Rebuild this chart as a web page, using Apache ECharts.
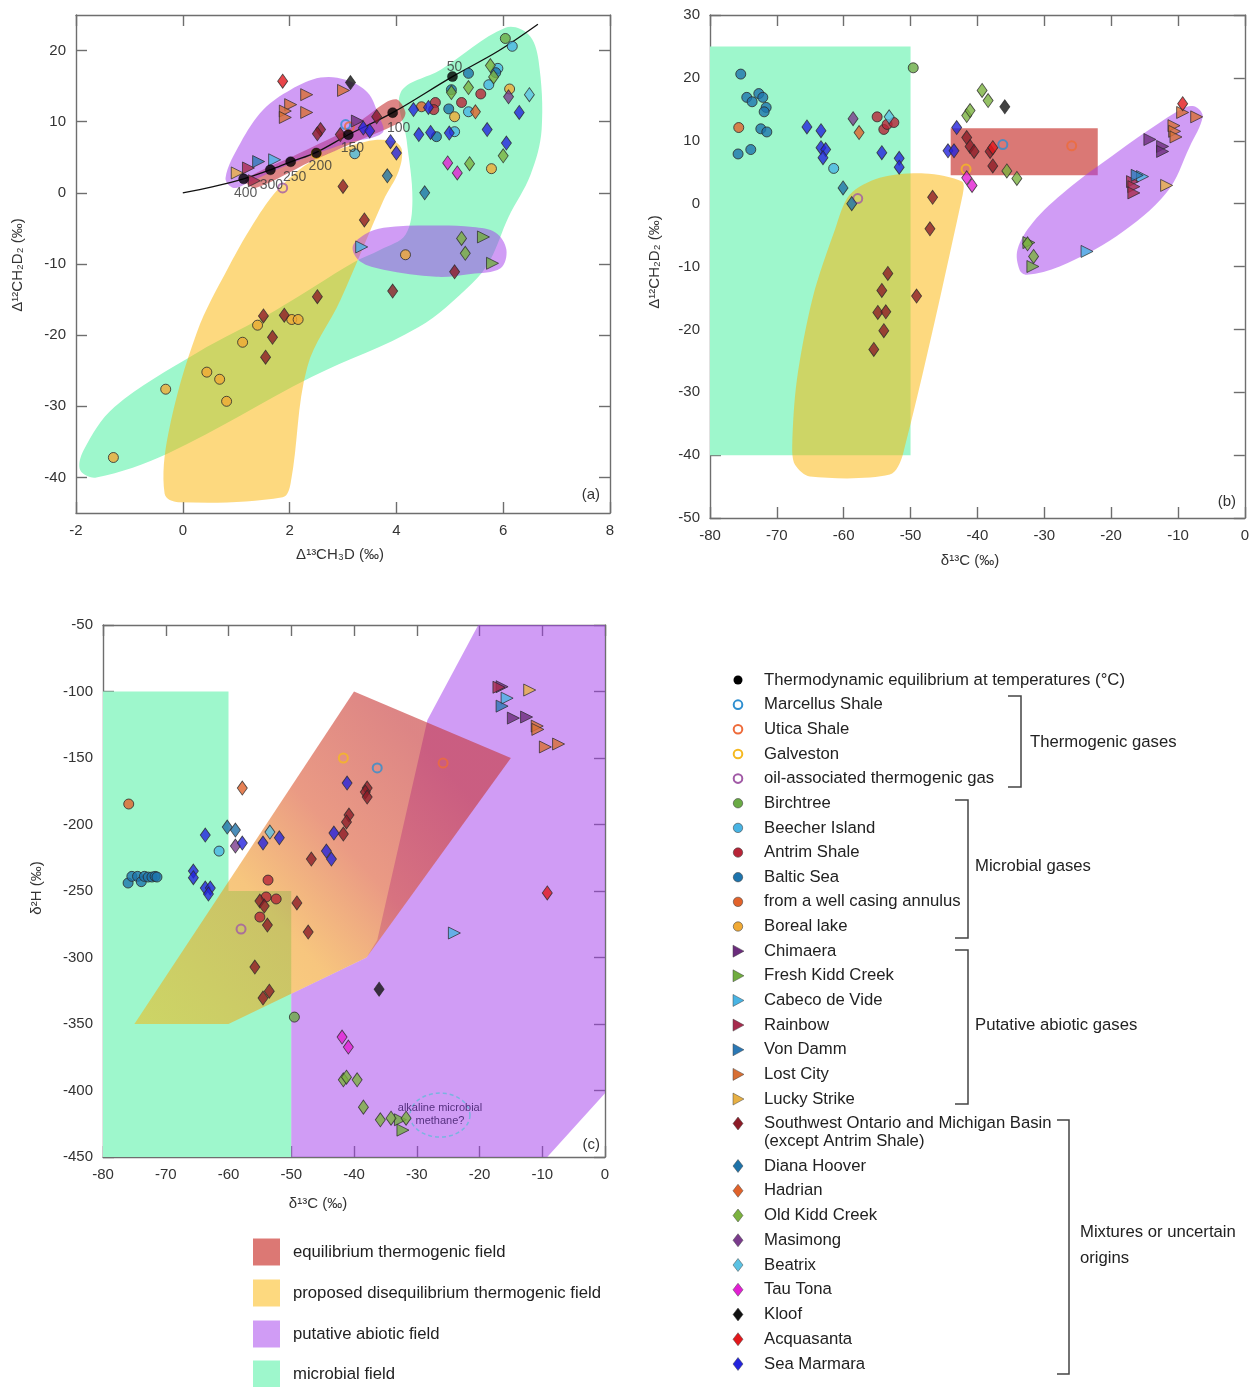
<!DOCTYPE html>
<html><head><meta charset="utf-8">
<script src="https://cdn.jsdelivr.net/npm/echarts@6/dist/echarts.min.js"></script>
<style>html,body{margin:0;padding:0;background:#fff}#c{width:1252px;height:1387px}</style>
</head><body><div id="c"></div>
<script>
// ---------- tick labels ----------
const ticksAx = [-2, 0, 2, 4, 6, 8];
const ticksAy = [-40, -30, -20, -10, 0, 10, 20];
const ticksBx = [-80, -70, -60, -50, -40, -30, -20, -10, 0];
const ticksBy = [-50, -40, -30, -20, -10, 0, 10, 20, 30];
const ticksCx = [-80, -70, -60, -50, -40, -30, -20, -10, 0];
const ticksCy = [-450, -400, -350, -300, -250, -200, -150, -100, -50];

// ---------- thermodynamic equilibrium (panel a) ----------
const eqCurve = [[0,0],[0.55,0.85],[1.14,1.97],[1.64,3.24],[2.02,4.37],[2.5,5.7],[3.1,8.17],[3.93,11.27],[5.05,16.34],[5.9,19.9],[6.65,23.7]];
const eqPoints = [[1.14,1.97],[1.64,3.24],[2.02,4.37],[2.5,5.6],[3.1,8.17],[3.93,11.27],[5.05,16.34]];
const eqTemps = ['400','300','250','200','150','100','50'];

// ---------- samples: A = Δ13CH3D vs Δ12CH2D2, B = δ13C vs Δ12CH2D2, C = δ13C vs δ2H ----------
const marcellusA = [[3.05,9.6]];
const marcellusB = [[-36.2,9.4]];
const marcellusC = [[-36.3,-157.5]];
const uticaA = [[3.12,9.3]];
const uticaB = [[-25.9,9.2]];
const uticaC = [[-25.8,-153.8]];
const galvestonA = [[2.5,5.5]];
const galvestonB = [[-41.7,5.5]];
const galvestonC = [[-41.7,-150]];
const oilGasA = [[1.87,0.7]];
const oilGasB = [[-57.9,0.8]];
const oilGasC = [[-58,-278.6]];
const birchtreeA = [[6.04,21.7]];
const birchtreeB = [[-49.6,21.6]];
const birchtreeC = [[-49.5,-344.8]];
const beecherA = [[6.17,20.6],[5.9,17.5],[5.73,15.2],[5.35,11.4],[5.09,8.6],[3.22,5.5]];
const beecherB = [[-61.5,5.6]];
const beecherC = [[-61.5,-220]];
const antrimA = [[4.73,12.7],[4.7,11.7],[5.22,12.7],[5.58,13.9]];
const antrimB = [[-55,13.8],[-54,11.8],[-53.5,12.6],[-52.5,12.9]];
const antrimC = [[-53.7,-241.8],[-54,-254.5],[-52.4,-256],[-55,-269.6]];
const balticA = [[5.03,14.5],[5.86,16.9],[5.35,16.8],[4.98,11.8],[4.75,7.9]];
const balticB = [[-75.4,20.6],[-74.5,16.9],[-73.7,16.2],[-72.7,17.5],[-72.1,16.9],[-71.6,15.3],[-71.9,14.6],[-72.4,11.9],[-71.5,11.4],[-75.8,7.9],[-73.9,8.6]];
const balticC = [[-76,-244],[-75.4,-239],[-74.5,-239],[-73.9,-243],[-73.4,-239],[-72.8,-239.5],[-72.2,-239.5],[-71.7,-239],[-71.4,-239.5]];
const casingA = [[4.47,12.1]];
const casingB = [[-75.7,12.1]];
const casingC = [[-75.9,-184.6]];
const borealA = [[5.09,10.7],[6.12,14.6],[5.78,3.4],[4.17,-8.7],[1.4,-18.6],[2.04,-17.8],[2.16,-17.8],[1.12,-21],[0.45,-25.2],[0.69,-26.2],[0.82,-29.3],[-0.32,-27.6],[-1.3,-37.2]];
const borealB = [];
const borealC = [];
const chimaeraA = [[3.27,10.1]];
const chimaeraB = [[-14.2,10.2],[-12.3,9.1],[-12.3,8.3]];
const chimaeraC = [[-14.6,-120],[-12.5,-119.2],[-16.4,-96.4]];
const freshKiddA = [[5.63,-6.2],[5.8,-9.9]];
const freshKiddB = [[-32.3,-6.2],[-31.7,-10]];
const freshKiddC = [[-32.6,-422],[-32.2,-429.8]];
const cabecoA = [[1.72,4.65],[3.35,-7.6]];
const cabecoB = [[-15.3,4.3],[-23.6,-7.6]];
const cabecoC = [[-15.6,-105],[-24,-281.6]];
const rainbowA = [[1.23,3.5],[1.34,1.7]];
const rainbowB = [[-16.8,3.5],[-16.6,2.7],[-16.6,1.7]];
const rainbowC = [[-16.9,-96.8]];
const vonDammA = [[1.42,4.4]];
const vonDammB = [[-16.1,4.5]];
const vonDammC = [[-16.4,-111]];
const lostCityA = [[2.32,13.8],[2.02,12.4],[1.92,11.5],[1.92,10.6],[2.32,11.3],[3.01,14.4]];
const lostCityB = [[-9.3,14.5],[-7.2,13.8],[-10.6,12.4],[-10.5,11.5],[-10.3,10.6]];
const lostCityC = [[-10.8,-126],[-10.7,-128.5],[-9.5,-141.7],[-7.4,-139.5]];
const luckyA = [[1.02,2.8]];
const luckyB = [[-11.7,2.9]];
const luckyC = [[-12,-98.9]];
const swOntarioA = [[2.58,8.9],[2.52,8.3],[2.95,8.2],[3.63,10.7],[3.0,0.9],[3.4,-3.8],[5.09,-11.1],[3.93,-13.8],[2.52,-14.6],[1.51,-17.3],[1.9,-17.2],[1.68,-20.3],[1.55,-23.1]];
const swOntarioB = [[-41.6,10.5],[-41.1,9.1],[-40.5,8.3],[-38.1,8.3],[-37.7,6.0],[-46.7,1.0],[-47.1,-4.0],[-49.1,-14.7],[-53.4,-11.1],[-54.3,-13.8],[-54.9,-17.3],[-53.7,-17.2],[-54,-20.2],[-55.5,-23.2]];
const swOntarioC = [[-37.9,-172.6],[-38.2,-175.6],[-37.9,-179.4],[-40.8,-192.9],[-41.2,-198.1],[-41.7,-207.2],[-46.8,-226],[-49.1,-259],[-47.3,-280.9],[-55,-257.6],[-54.3,-261.3],[-53.8,-275.6],[-55.8,-307.2],[-53.5,-325.3],[-54.5,-330.5]];
const dianaA = [[3.83,2.4],[4.53,0]];
const dianaB = [[-60.1,2.5],[-58.8,0]];
const dianaC = [[-60.2,-201.9],[-58.9,-204.2]];
const hadrianA = [[5.48,11.4]];
const hadrianB = [[-57.7,11.3]];
const hadrianC = [[-57.8,-172.6]];
const oldKiddA = [[5.37,4.1],[5.76,17.9],[5.82,16.3],[5.35,14.8],[5.03,14.1],[6.0,5.2],[5.22,-6.4],[5.29,-8.5]];
const oldKiddB = [[-41.6,14],[-41.1,14.8],[-39.3,18],[-38.4,16.4],[-35.6,5.2],[-34.1,4.0],[-32.5,-6.4],[-31.6,-8.4]];
const oldKiddC = [[-41.7,-392],[-41.2,-390],[-39.5,-392],[-38.5,-412.5],[-35.8,-422],[-34.1,-420.8],[-31.7,-420.8]];
const masimongA = [[6.1,13.5]];
const masimongB = [[-58.6,13.5]];
const masimongC = [[-58.9,-216.2]];
const beatrixA = [[6.49,13.8]];
const beatrixB = [[-53.2,13.8]];
const beatrixC = [[-53.4,-205.7]];
const tauTonaA = [[4.96,4.2],[5.14,2.8]];
const tauTonaB = [[-41.6,4.1],[-40.8,2.9]];
const tauTonaC = [[-41.9,-359.8],[-40.9,-367.3]];
const kloofA = [[3.14,15.5]];
const kloofB = [[-35.9,15.4]];
const kloofC = [[-36,-323.8]];
const acquasantaA = [[1.87,15.7]];
const acquasantaB = [[-9.3,15.9],[-37.7,8.9]];
const acquasantaC = [[-9.2,-251.5]];
const marmaraA = [[3.38,9.1],[3.5,8.7],[3.89,7.2],[4.0,5.6],[4.32,11.7],[4.6,12.0],[4.42,8.2],[4.64,8.5],[4.99,8.4],[5.7,8.9],[6.06,7.0],[6.3,11.3]];
const marmaraB = [[-65.5,12.2],[-63.4,11.6],[-63.4,8.9],[-62.7,8.6],[-63.1,7.3],[-54.3,8.1],[-51.7,7.2],[-51.7,5.8],[-44.4,8.4],[-43.5,8.4],[-43.1,12.1]];
const marmaraC = [[-63.7,-207.9],[-65.6,-235],[-65.6,-240],[-63.7,-247.8],[-62.9,-247.8],[-63.2,-252.3],[-57.8,-214],[-54.5,-214],[-51.9,-210],[-41.1,-168.8],[-43.2,-206.4],[-44.4,-220],[-43.6,-226]];

// ---------- fields (outlines in data units) ----------
const greenFieldA = [[4.08,14.1],[4.83,17.3],[6.04,23.2],[6.47,22.3],[6.66,18.7],[6.72,8.9],[6.51,2.5],[6.1,-3.4],[5.76,-9.4],[5.42,-12.7],[4.41,-18.9],[2.41,-25.9],[-0.27,-36.6],[-1.62,-40.0],[-1.92,-39.0],[-1.86,-36.2],[-1.28,-30.1],[0.26,-22.5],[1.74,-16.5],[3.22,-9.7],[3.7,-8.0],[4.17,-5.9],[4.3,-1.0],[4.19,7.5]];
const yellowFieldA = [[-0.34,-42.3],[-0.08,-43.5],[1.87,-42.8],[2.02,-40.8],[2.33,-24.5],[2.95,-15.1],[3.76,-1.0],[4.04,3.0],[4.1,6.1],[3.93,7.3],[3.42,7.2],[2.45,4.6],[1.83,0.85],[1.4,-3.4],[0.86,-10.4],[0.26,-19.7],[-0.27,-33.8]];
const redFieldA = [[1.17,1.83],[2.2,5.63],[3.14,9.15],[3.8,12.7],[4.02,13.1],[4.17,11.3],[4.08,10.0],[3.33,7.46],[2.39,4.37],[1.36,0.7]];
const purpleFieldA1 = [[0.8,2.1],[0.95,0.7],[1.21,1.4],[1.83,3.5],[2.45,5.35],[3.08,7.0],[3.74,8.45],[3.66,11.0],[3.46,14.1],[3.05,15.9],[2.58,16.2],[2.02,14.5],[1.51,11.7],[1.08,7.0]];
const purpleFieldA2 = [[3.18,-7.6],[3.42,-5.8],[3.76,-4.9],[4.64,-4.6],[5.43,-4.8],[5.86,-5.6],[6.06,-8.0],[5.95,-10.6],[5.39,-11.4],[4.75,-11.8],[3.76,-10.8],[3.33,-9.7]];
const greenFieldB = [[-80,-40],[-50,-40],[-50,25],[-80,25]];
const redFieldB = [[-44,4.5],[-22,4.5],[-22,12],[-44,12]];
const yellowFieldB = [[-67.7,-38.6],[-67.3,-41.5],[-65.05,-43.4],[-53.1,-43.1],[-51.15,-39.9],[-42.2,1.43],[-42.3,3.5],[-47.9,4.8],[-54.6,4.1],[-59.1,1.4],[-61.3,-4.1],[-64.6,-14.8],[-67,-28]];
const purpleFieldB = [[-33.7,-10.5],[-32.6,-11.3],[-27.7,-10],[-19.2,-5.2],[-11.7,1.75],[-8.25,9.06],[-6.3,13.8],[-7.2,15.3],[-8.7,15.4],[-12.7,12.9],[-19.2,8.1],[-26.6,2.2],[-31.7,-3.0],[-34,-7.3]];
const greenFieldC = [[-80,-100],[-60,-100],[-60,-250],[-50,-250],[-50,-450],[-80,-450]];
const purpleFieldC = [[-20.2,-50],[0,-50],[0,-402],[-9.2,-450],[-50,-450],[-50,-327.3],[-38,-300],[-36.3,-287],[-28.3,-121.4]];
const thermoFieldC = [[-75,-350],[-60,-350],[-38,-300],[-15,-150],[-40,-100]];
const alkalineCenterC = [-26.3,-418.5];

// ---------- styling ----------
const FONT = '"Liberation Sans", Arial, Helvetica, sans-serif';
const C_GREEN = '#9ef7cc', C_YELLOW = 'rgba(251,180,0,0.5)', C_PURPLE = 'rgba(161,57,235,0.5)', C_RED = 'rgba(198,52,52,0.6)';
const AX = '#6e6e6e';
const LEG = 16.7;

const categories = [
  {name:'Marcellus Shale', s:'hollow', c:'#2f8fd0', d:[marcellusA, marcellusB, marcellusC]},
  {name:'Utica Shale', s:'hollow', c:'#ee6b3a', d:[uticaA, uticaB, uticaC]},
  {name:'Galveston', s:'hollow', c:'#f5b921', d:[galvestonA, galvestonB, galvestonC]},
  {name:'oil-associated thermogenic gas', s:'hollow', c:'#a15aa6', d:[oilGasA, oilGasB, oilGasC]},
  {name:'Birchtree', s:'circle', c:'#6aab45', d:[birchtreeA, birchtreeB, birchtreeC]},
  {name:'Beecher Island', s:'circle', c:'#48b4e4', d:[beecherA, beecherB, beecherC]},
  {name:'Antrim Shale', s:'circle', c:'#b82437', d:[antrimA, antrimB, antrimC]},
  {name:'Baltic Sea', s:'circle', c:'#1d74ad', d:[balticA, balticB, balticC]},
  {name:'from a well casing annulus', s:'circle', c:'#e2622a', d:[casingA, casingB, casingC]},
  {name:'Boreal lake', s:'circle', c:'#f0a935', d:[borealA, borealB, borealC]},
  {name:'Chimaera', s:'tri', c:'#6b2c7c', d:[chimaeraA, chimaeraB, chimaeraC]},
  {name:'Fresh Kidd Creek', s:'tri', c:'#70ad3f', d:[freshKiddA, freshKiddB, freshKiddC]},
  {name:'Cabeco de Vide', s:'tri', c:'#48b4e4', d:[cabecoA, cabecoB, cabecoC]},
  {name:'Rainbow', s:'tri', c:'#a72b4d', d:[rainbowA, rainbowB, rainbowC]},
  {name:'Von Damm', s:'tri', c:'#2a78b5', d:[vonDammA, vonDammB, vonDammC]},
  {name:'Lost City', s:'tri', c:'#d86f33', d:[lostCityA, lostCityB, lostCityC]},
  {name:'Lucky Strike', s:'tri', c:'#e7b043', d:[luckyA, luckyB, luckyC]},
  {name:'Southwest Ontario and Michigan Basin', s:'dia', c:'#8c1b27', d:[swOntarioA, swOntarioB, swOntarioC]},
  {name:'Diana Hoover', s:'dia', c:'#1e72a8', d:[dianaA, dianaB, dianaC]},
  {name:'Hadrian', s:'dia', c:'#e0622a', d:[hadrianA, hadrianB, hadrianC]},
  {name:'Old Kidd Creek', s:'dia', c:'#7bb23f', d:[oldKiddA, oldKiddB, oldKiddC]},
  {name:'Masimong', s:'dia', c:'#7a3b8c', d:[masimongA, masimongB, masimongC]},
  {name:'Beatrix', s:'dia', c:'#5bc2e3', d:[beatrixA, beatrixB, beatrixC]},
  {name:'Tau Tona', s:'dia', c:'#e21fd3', d:[tauTonaA, tauTonaB, tauTonaC]},
  {name:'Kloof', s:'dia', c:'#111111', d:[kloofA, kloofB, kloofC]},
  {name:'Acquasanta', s:'dia', c:'#e2171b', d:[acquasantaA, acquasantaB, acquasantaC]},
  {name:'Sea Marmara', s:'dia', c:'#2323dd', d:[marmaraA, marmaraB, marmaraC]}
];

// ---------- axes ----------
const grids = [
  {left:76, top:15, width:534, height:498},
  {left:710, top:15, width:535, height:503},
  {left:103, top:625, width:502, height:532}
];
const ranges = [
  {x:[-2,8], y:[-45,25], xt:ticksAx, yt:ticksAy},
  {x:[-80,0], y:[-50,30], xt:ticksBx, yt:ticksBy},
  {x:[-80,0], y:[-450,-50], xt:ticksCx, yt:ticksCy}
];
const xAxis = [], yAxis = [];
ranges.forEach((r, g) => {
  const line = {show:true, onZero:false, lineStyle:{color:AX, width:1.4}};
  const tick = v => ({show:true, inside:true, length:11, customValues:v, lineStyle:{color:AX, width:1.4}});
  const lab = v => ({show:true, customValues:v, color:'#333', fontSize:15, fontFamily:FONT, margin:10, showMinLabel:true, showMaxLabel:true});
  xAxis.push({type:'value', gridIndex:g, position:'bottom', min:r.x[0], max:r.x[1], axisLine:line, axisTick:tick(r.xt), axisLabel:lab(r.xt), splitLine:{show:false}});
  xAxis.push({type:'value', gridIndex:g, position:'top', min:r.x[0], max:r.x[1], axisLine:line, axisTick:tick(r.xt), axisLabel:{show:false}, splitLine:{show:false}});
  yAxis.push({type:'value', gridIndex:g, position:'left', min:r.y[0], max:r.y[1], axisLine:line, axisTick:tick(r.yt), axisLabel:lab(r.yt), splitLine:{show:false}});
  yAxis.push({type:'value', gridIndex:g, position:'right', min:r.y[0], max:r.y[1], axisLine:line, axisTick:tick(r.yt), axisLabel:{show:false}, splitLine:{show:false}});
});

// ---------- series ----------
const series = [];
function field(g, pts, fill, smooth, z) {
  series.push({type:'custom', xAxisIndex:2*g, yAxisIndex:2*g, silent:true, z:z, clip:true, data:[[0,0]],
    renderItem:(p, api) => ({type:'polygon', shape:{points:pts.map(q => api.coord(q)), smooth:smooth}, style:{fill:fill}})});
}
// panel a
field(0, greenFieldA, C_GREEN, 0.35, 1);
field(0, yellowFieldA, C_YELLOW, 0.35, 1);
field(0, redFieldA, C_RED, 0.3, 1);
field(0, purpleFieldA1, C_PURPLE, 0.35, 1);
field(0, purpleFieldA2, C_PURPLE, 0.35, 1);
// panel b
field(1, greenFieldB, C_GREEN, 0, 1);
field(1, yellowFieldB, C_YELLOW, 0.3, 1);
field(1, redFieldB, '#da7875', 0, 1);
field(1, purpleFieldB, C_PURPLE, 0.35, 1);
// panel c
field(2, greenFieldC, C_GREEN, 0, 1);
field(2, purpleFieldC, C_PURPLE, 0, 1);
field(2, thermoFieldC, new echarts.graphic.LinearGradient(0, 1, 1, 0, [
  {offset:0, color:'rgba(251,180,0,0.5)'},
  {offset:0.35, color:'rgba(240,150,20,0.55)'},
  {offset:0.55, color:'rgba(220,87,50,0.6)'},
  {offset:0.8, color:'rgba(198,52,52,0.6)'},
  {offset:1, color:'rgba(198,52,52,0.6)'}
]), 0, 1);
// alkaline microbial methane annotation
series.push({type:'custom', xAxisIndex:4, yAxisIndex:4, silent:true, z:2, data:[[0,0]],
  renderItem:(p, api) => {
    const c = api.coord(alkalineCenterC);
    const pts = [];
    for (let i = 0; i < 60; i++) { const a = i / 60 * Math.PI * 2; pts.push([c[0] + 30 * Math.cos(a), c[1] + 22 * Math.sin(a)]); }
    return {type:'group', children:[
      {type:'polygon', shape:{points:pts}, style:{fill:'none', stroke:'#79b4df', lineWidth:1.5, lineDash:[4,3]}},
      {type:'text', x:c[0], y:c[1] - 7, style:{text:'alkaline microbial', fill:'#55307f', font:'11px ' + FONT, align:'center', verticalAlign:'middle', textAlign:'center', textVerticalAlign:'middle'}},
      {type:'text', x:c[0], y:c[1] + 6, style:{text:'methane?', fill:'#55307f', font:'11px ' + FONT, align:'center', verticalAlign:'middle', textAlign:'center', textVerticalAlign:'middle'}}
    ]};
  }});

// equilibrium curve
series.push({type:'line', xAxisIndex:0, yAxisIndex:0, data:eqCurve, smooth:0.35, symbol:'none', silent:true, z:3, lineStyle:{color:'#111', width:1.3}});

function symStyle(cat) {
  if (cat.s === 'hollow') return {symbol:'circle', symbolSize:9, symbolRotate:0, itemStyle:{color:'rgba(255,255,255,0)', borderColor:cat.c, borderWidth:2}};
  if (cat.s === 'circle') return {symbol:'circle', symbolSize:10, symbolRotate:0, itemStyle:{color:cat.c, borderColor:'#2a2a2a', borderWidth:1}};
  if (cat.s === 'tri') return {symbol:'triangle', symbolSize:12, symbolRotate:-90, itemStyle:{color:cat.c, borderColor:'#2a2a2a', borderWidth:0.9}};
  return {symbol:'diamond', symbolSize:[10,14], symbolRotate:0, itemStyle:{color:cat.c, borderColor:'#2a2a2a', borderWidth:0.9}};
}
categories.forEach(cat => {
  cat.d.forEach((arr, g) => {
    if (!arr.length) return;
    series.push(Object.assign({type:'scatter', name:cat.name, xAxisIndex:2*g, yAxisIndex:2*g, data:arr, z:5, silent:true}, symStyle(cat)));
  });
});
// equilibrium points with temperature labels
const eqLabelOffsets = [[2,14],[1,15],[4,15],[4,13],[4,13],[6,15],[2,-9]];
series.push({type:'scatter', xAxisIndex:0, yAxisIndex:0, z:6, silent:true, symbol:'circle', symbolSize:10,
  itemStyle:{color:'#000', borderColor:'#000', borderWidth:0.5},
  data:eqPoints.map((p, i) => ({value:p, name:eqTemps[i], label:{offset:eqLabelOffsets[i]}})),
  label:{show:true, position:'inside', formatter:'{b}', color:'#333', fontSize:14, fontFamily:FONT}});

// ---------- graphic: axis names, tags, legends ----------
const graphic = [];
function txt(x, y, text, opt) {
  opt = opt || {};
  graphic.push({type:'text', x:x, y:y, rotation:opt.rot || 0, z:100, silent:true,
    style:{text:text, fill:opt.fill || '#222', font:(opt.size || 15) + 'px ' + FONT,
      align:opt.align || 'left', verticalAlign:'middle', textAlign:opt.align || 'left', textVerticalAlign:'middle'}});
}
txt(340, 555, 'Δ¹³CH₃D (‰)', {align:'center', fill:'#333'});
txt(18, 265, 'Δ¹²CH₂D₂ (‰)', {align:'center', rot:Math.PI/2, fill:'#333'});
txt(970, 561, 'δ¹³C (‰)', {align:'center', fill:'#333'});
txt(655, 262, 'Δ¹²CH₂D₂ (‰)', {align:'center', rot:Math.PI/2, fill:'#333'});
txt(318, 1204, 'δ¹³C (‰)', {align:'center', fill:'#333'});
txt(37, 888, 'δ²H (‰)', {align:'center', rot:Math.PI/2, fill:'#333'});
txt(600, 495, '(a)', {align:'right', fill:'#333'});
txt(1236, 502, '(b)', {align:'right', fill:'#333'});
txt(600, 1145, '(c)', {align:'right', fill:'#333'});

// sample legend
const legendRows = [{name:'Thermodynamic equilibrium at temperatures (°C)', s:'eq', c:'#000'}].concat(categories);
legendRows.forEach((row, i) => {
  const y = i < 18 ? 680 + i * 24.65 : (i === 18 ? 1123.5 : 1166 + (i - 19) * 24.75);
  const x = 738;
  if (row.s === 'eq') graphic.push({type:'circle', shape:{cx:x, cy:y, r:4.5}, style:{fill:'#000'}, silent:true});
  else if (row.s === 'hollow') graphic.push({type:'circle', shape:{cx:x, cy:y, r:4.3}, style:{fill:'#fff', stroke:row.c, lineWidth:2}, silent:true});
  else if (row.s === 'circle') graphic.push({type:'circle', shape:{cx:x, cy:y, r:4.7}, style:{fill:row.c, stroke:'#444', lineWidth:0.6}, silent:true});
  else if (row.s === 'tri') graphic.push({type:'polygon', shape:{points:[[x-5,y-6],[x+6,y],[x-5,y+6]]}, style:{fill:row.c, stroke:'#444', lineWidth:0.5}, silent:true});
  else graphic.push({type:'polygon', shape:{points:[[x,y-6.5],[x+5,y],[x,y+6.5],[x-5,y]]}, style:{fill:row.c, stroke:'#444', lineWidth:0.5}, silent:true});
  txt(764, y, row.name, {size:LEG});
  if (i === 18) txt(764, y + 18, '(except Antrim Shale)', {size:LEG});
});
function bracket(x0, x1, y0, y1) {
  graphic.push({type:'polyline', silent:true, shape:{points:[[x0,y0],[x1,y0],[x1,y1],[x0,y1]]}, style:{stroke:'#444', lineWidth:1.5, fill:null}});
}
bracket(1008, 1021, 696, 787);
bracket(955, 968, 800, 938);
bracket(955, 968, 950, 1104);
bracket(1057, 1069, 1120, 1374);
txt(1030, 742, 'Thermogenic gases', {size:LEG});
txt(975, 866, 'Microbial gases', {size:LEG});
txt(975, 1025, 'Putative abiotic gases', {size:LEG});
txt(1080, 1232, 'Mixtures or uncertain', {size:LEG});
txt(1080, 1258, 'origins', {size:LEG});

// field legend
const fieldLegend = [
  {name:'equilibrium thermogenic field', c:'#dc7874', y:1252},
  {name:'proposed disequilibrium thermogenic field', c:'#fdd97f', y:1293},
  {name:'putative abiotic field', c:'#d09cf5', y:1334},
  {name:'microbial field', c:'#9ef7cc', y:1374}
];
fieldLegend.forEach(f => {
  graphic.push({type:'rect', silent:true, shape:{x:253, y:f.y - 13.5, width:27, height:27}, style:{fill:f.c}});
  txt(293, f.y, f.name, {size:LEG});
});

const chart = echarts.init(document.getElementById('c'), null, {renderer:'canvas'});
chart.setOption({
  animation:false,
  backgroundColor:'#fff',
  textStyle:{fontFamily:FONT},
  grid:grids.map(g => Object.assign({containLabel:false}, g)),
  xAxis:xAxis, yAxis:yAxis, series:series, graphic:graphic
});
</script></body></html>
